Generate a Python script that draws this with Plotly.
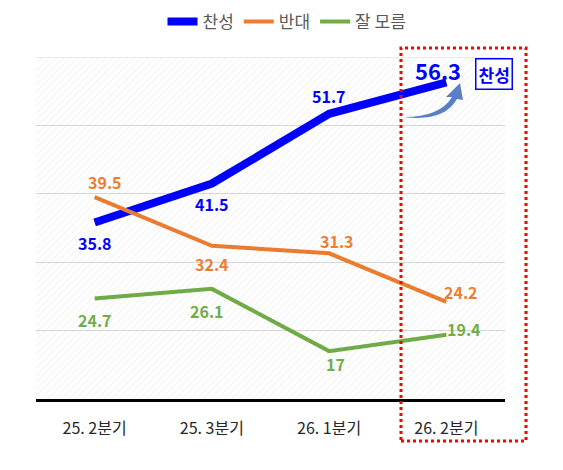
import plotly.graph_objects as go

# data
quarters = ['25. 2분기', '25. 3분기', '26. 1분기', '26. 2분기']
agree = [35.8, 41.5, 51.7, 56.3]
oppose = [39.5, 32.4, 31.3, 24.2]
unsure = [24.7, 26.1, 17, 19.4]

# page body adds an 8px margin, so the figure is a bit smaller than the window
OFF = 8
W, H = 563 - OFF, 470 - OFF
L, R, T, B = 36 - OFF, 58, 57 - OFF, 71


def px(x, y):
    # reference pixel -> paper coords
    x, y = x - OFF, y - OFF
    return (x - L) / (W - L - R), (H - B - y) / (H - T - B)


fig = go.Figure()

# hatched background
fig.add_trace(go.Scatter(x=[-0.5, 3.5], y=[60, 60], mode='lines', fill='tozeroy',
                         line=dict(width=0), fillcolor='rgba(0,0,0,0)',
                         fillpattern=dict(shape='/', fgcolor='rgba(0,0,0,0.1)',
                                          bgcolor='rgba(0,0,0,0)', size=5, solidity=0.2),
                         xaxis='x2', showlegend=False, hoverinfo='skip'))

fig.add_trace(go.Scatter(x=quarters, y=agree, name='찬성', mode='lines',
                         line=dict(color='#0000ff', width=8)))
fig.add_trace(go.Scatter(x=quarters, y=oppose, name='반대', mode='lines',
                         line=dict(color='#ed7d31', width=4)))
fig.add_trace(go.Scatter(x=quarters, y=unsure, name='잘 모름', mode='lines',
                         line=dict(color='#70ad47', width=4)))

# value labels (xshift, yshift)
offs = {
    '#0000ff': [(0, -20), (0, -20), (0, 18), (-8, 12)],
    '#ed7d31': [(10, 15), (0, -18), (8, 12), (15, 10)],
    '#70ad47': [(0, -22), (-5, -22), (6, -13), (18, 6)],
}
for vals, col in [(agree, '#0000ff'), (oppose, '#ed7d31'), (unsure, '#70ad47')]:
    for i, v in enumerate(vals):
        dx, dy = offs[col][i]
        big = col == '#0000ff' and i == 3
        fig.add_annotation(x=quarters[i], y=v, text=f'<b>{v:g}</b>', showarrow=False,
                           xshift=dx, yshift=dy,
                           font=dict(color=col, size=22 if big else 16))

# boxed label
bx, by = px(494, 73.5)
fig.add_annotation(xref='paper', yref='paper', x=bx, y=by, text='<b>찬성</b>',
                   xanchor='center', yanchor='middle',
                   showarrow=False, font=dict(color='#0000ff', size=17),
                   bordercolor='#0000ff', borderwidth=1.5, borderpad=2, bgcolor='white')

# curved arrow
pts = [(404, 117), 'Q', (440, 117), (452, 97), 'L', (446, 97), 'L', (460, 83),
       'L', (463, 100), 'L', (457, 99), 'Q', (444, 122), (404, 117)]
path = 'M'
for p in pts:
    if isinstance(p, str):
        path += ' ' + p
    else:
        a, b = px(*p)
        path += f' {a:.4f},{b:.4f}'
path += ' Z'
fig.add_shape(type='path', path=path, xref='paper', yref='paper',
              fillcolor='#5b7fc4', line=dict(width=0))

# top gridline (plotly drops the one at the range edge)
fig.add_shape(type='line', xref='paper', yref='y', x0=0, x1=1, y0=60, y1=60,
              line=dict(color='#d9d9d9', width=1), layer='below')

# red dotted box
x0, y0 = px(401, 441)
x1, y1 = px(526, 48)
fig.add_shape(type='rect', xref='paper', yref='paper', x0=x0, y0=y0, x1=x1, y1=y1,
              line=dict(color='#ff0000', width=3, dash='dot'))

lx, _ = px(287, 0)
fig.update_layout(
    width=W, height=H,
    margin=dict(l=L, r=R, t=T, b=B, autoexpand=False),
    paper_bgcolor='white', plot_bgcolor='white',
    font=dict(family='Noto Sans CJK KR', color='#262626'),
    legend=dict(orientation='h', x=lx, xanchor='center',
                yref='container', y=1 - (22 - OFF) / H, yanchor='middle',
                font=dict(size=17, color='#595959'), itemwidth=30),
    xaxis=dict(type='category', range=[-0.5, 3.5], showline=True, linecolor='black',
               linewidth=3, showgrid=False, ticks='', ticklabelstandoff=13,
               tickfont=dict(size=16, color='#262626'), fixedrange=True),
    xaxis2=dict(range=[-0.5, 3.5], overlaying='x', visible=False),
    yaxis=dict(range=[10, 60], dtick=10, showticklabels=False, showline=False,
               gridcolor='#d9d9d9', gridwidth=1, zeroline=False),
    showlegend=True,
)

fig.write_html('out.html')
